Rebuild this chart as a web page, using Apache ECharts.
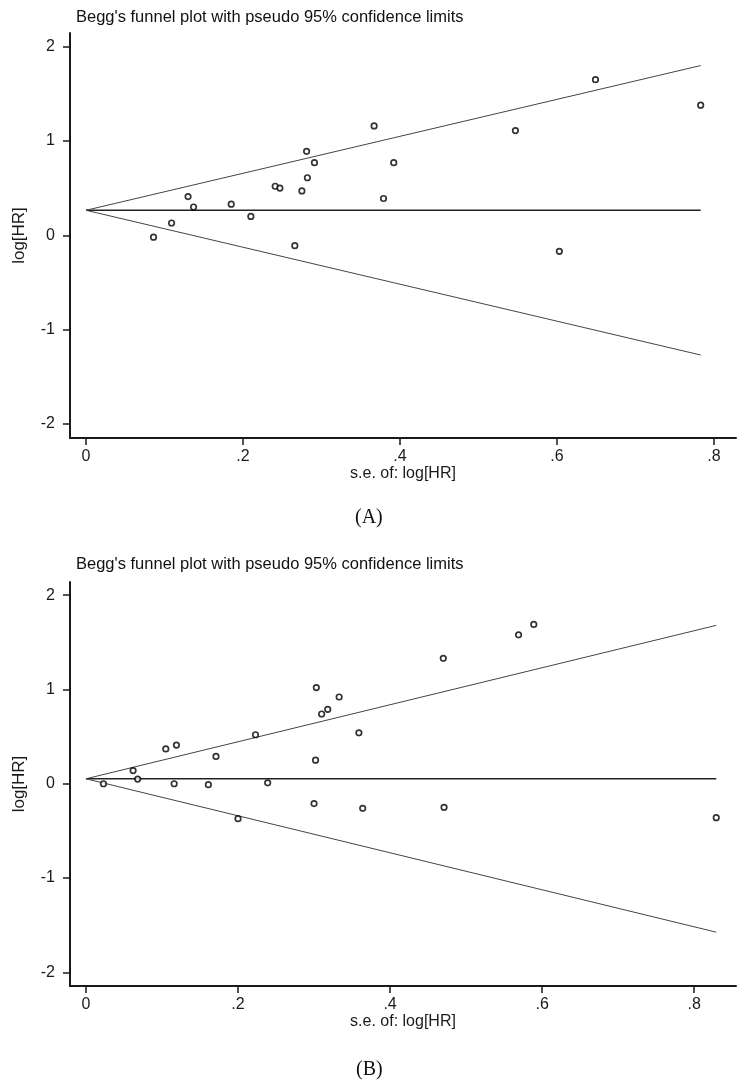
<!DOCTYPE html>
<html>
<head>
<meta charset="utf-8">
<script src="https://cdn.jsdelivr.net/npm/echarts@6/dist/echarts.min.js"></script>
<style>
  html, body { margin: 0; padding: 0; background: #fff; }
  #main { width: 738px; height: 1080px; }
</style>
</head>
<body>
<div id="main"></div>
<script>
// panel A: study points (s.e. of log[HR], log[HR])
var seA = [0.086, 0.109, 0.130, 0.137, 0.185, 0.210, 0.241, 0.247, 0.266, 0.275,
           0.281, 0.282, 0.291, 0.367, 0.379, 0.392, 0.547, 0.603, 0.649, 0.783];
var logHrA = [-0.02, 0.13, 0.41, 0.30, 0.33, 0.20, 0.52, 0.50, -0.11, 0.47,
              0.89, 0.61, 0.77, 1.16, 0.39, 0.77, 1.11, -0.17, 1.65, 1.38];
// panel A: pseudo 95% limits, read at both ends
var limitSeA = [0, 0.783];
var centerA = [0.265, 0.265];
var upperA = [0.265, 1.80];
var lowerA = [0.265, -1.27];

// panel B
var seB = [0.023, 0.062, 0.068, 0.105, 0.116, 0.119, 0.161, 0.171, 0.200, 0.223,
           0.239, 0.300, 0.302, 0.303, 0.310, 0.318, 0.333, 0.359, 0.364, 0.470,
           0.471, 0.569, 0.589, 0.829];
var logHrB = [0.00, 0.14, 0.05, 0.37, 0.00, 0.41, -0.01, 0.29, -0.37, 0.52,
              0.01, -0.21, 0.25, 1.02, 0.74, 0.79, 0.92, 0.54, -0.26, 1.33,
              -0.25, 1.58, 1.69, -0.36];
var limitSeB = [0, 0.829];
var centerB = [0.053, 0.053];
var upperB = [0.053, 1.68];
var lowerB = [0.053, -1.574];

// tick labels
var xTicks = [0, 0.2, 0.4, 0.6, 0.8];
var yTicks = [-2, -1, 0, 1, 2];

var titleText = "Begg's funnel plot with pseudo 95% confidence limits";
var font = 'Liberation Sans, Arial, sans-serif';
var serif = 'Liberation Serif, Times New Roman, serif';
var ink = '#1a1a1a';

function pairs(xs, ys) {
    return xs.map(function (x, i) { return [x, ys[i]]; });
}

function xAxisOpt(idx, max) {
    return {
        type: 'value',
        gridIndex: idx,
        min: idx === 0 ? -0.0204 : -0.021,
        max: max,
        name: 's.e. of: log[HR]',
        nameLocation: 'middle',
        nameGap: 27,
        nameTextStyle: { fontFamily: font, fontSize: 16, color: ink, verticalAlign: 'top' },
        splitLine: { show: false },
        axisLine: { onZero: false, lineStyle: { color: ink, width: 2 } },
        axisTick: { length: 7, customValues: xTicks, lineStyle: { color: ink, width: 1.5 } },
        axisLabel: {
            customValues: xTicks,
            margin: 11,
            fontFamily: font, fontSize: 16, color: ink,
            formatter: function (v) {
                return v === 0 ? '0' : String(+v.toFixed(1)).replace(/^0/, '');
            }
        }
    };
}

function yAxisOpt(idx, min, max) {
    return {
        type: 'value',
        gridIndex: idx,
        min: min,
        max: max,
        name: 'log[HR]',
        nameLocation: 'middle',
        nameGap: 42,
        nameTextStyle: { fontFamily: font, fontSize: 17, color: ink },
        splitLine: { show: false },
        axisLine: { show: true, onZero: false, lineStyle: { color: ink, width: 2 } },
        axisTick: { show: true, length: 7, customValues: yTicks, lineStyle: { color: ink, width: 1.5 } },
        axisLabel: {
            customValues: yTicks,
            margin: 15,
            fontFamily: font, fontSize: 16, color: ink
        }
    };
}

function lineSeries(idx, xs, ys, width, color) {
    return {
        type: 'line',
        xAxisIndex: idx, yAxisIndex: idx,
        data: pairs(xs, ys),
        symbol: 'none',
        silent: true,
        lineStyle: { color: color, width: width }
    };
}

function pointSeries(idx, xs, ys) {
    return {
        type: 'scatter',
        xAxisIndex: idx, yAxisIndex: idx,
        data: pairs(xs, ys),
        symbol: 'circle',
        symbolSize: 5.5,
        itemStyle: { color: '#fff', borderColor: '#000', borderWidth: 1.7 },
        z: 5
    };
}

var chart = echarts.init(document.getElementById('main'));
var option = {
    animation: false,
    backgroundColor: '#fff',
    title: [
        { text: titleText, left: 71, top: 4,
          textStyle: { fontFamily: font, fontSize: 16.5, fontWeight: 'normal', color: '#111' } },
        { text: titleText, left: 71, top: 551,
          textStyle: { fontFamily: font, fontSize: 16.5, fontWeight: 'normal', color: '#111' } },
        { text: '(A)', left: 350, top: 503,
          textStyle: { fontFamily: serif, fontSize: 20, fontWeight: 'normal', color: '#111' } },
        { text: '(B)', left: 351, top: 1055,
          textStyle: { fontFamily: serif, fontSize: 20, fontWeight: 'normal', color: '#111' } }
    ],
    grid: [
        { left: 70, right: 2, top: 33, height: 405 },
        { left: 70, right: 2, top: 582, height: 404 }
    ],
    xAxis: [xAxisOpt(0, 0.828), xAxisOpt(1, 0.855)],
    yAxis: [yAxisOpt(0, -2.15, 2.145), yAxisOpt(1, -2.145, 2.14)],
    series: [
        lineSeries(0, limitSeA, centerA, 1.4, '#222'),
        lineSeries(0, limitSeA, upperA, 1, '#444'),
        lineSeries(0, limitSeA, lowerA, 1, '#444'),
        pointSeries(0, seA, logHrA),
        lineSeries(1, limitSeB, centerB, 1.4, '#222'),
        lineSeries(1, limitSeB, upperB, 1, '#444'),
        lineSeries(1, limitSeB, lowerB, 1, '#444'),
        pointSeries(1, seB, logHrB)
    ]
};
chart.setOption(option);
</script>
</body>
</html>
